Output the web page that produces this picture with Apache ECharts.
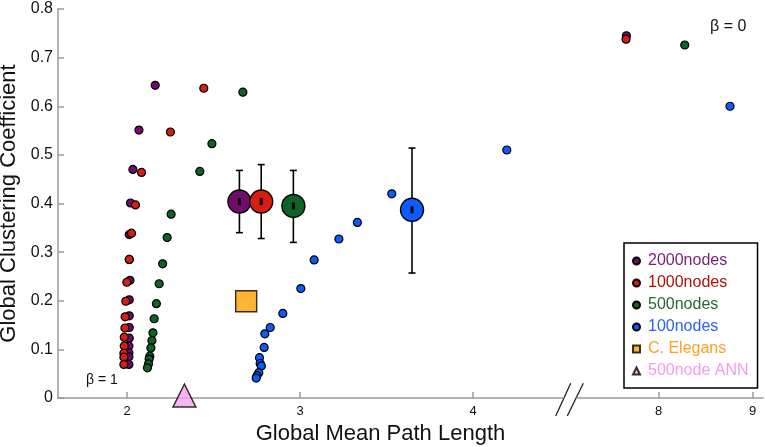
<!DOCTYPE html>
<html>
<head>
<meta charset="utf-8">
<script src="https://cdn.jsdelivr.net/npm/echarts@6/dist/echarts.min.js"></script>
<style>
  html, body { margin: 0; padding: 0; background: #fff; }
  #chart { width: 765px; height: 447px; }
</style>
</head>
<body>
<div id="chart"></div>
<script>
// small-world networks, beta from 1 (bottom left) to 0 (top right)
var n2000X = [2.162, 2.068, 2.033, 2.019, 2.012, 2.012, 2.016, 2.012, 2.012, 2.012, 2.012, 2.010, 2.010, 2.010, 2.010];
var n2000Y = [0.643, 0.551, 0.470, 0.401, 0.336, 0.285, 0.242, 0.202, 0.169, 0.145, 0.123, 0.107, 0.093, 0.085, 0.069];
var n1000X = [2.443, 2.250, 2.083, 2.048, 2.025, 2.012, 1.998, 1.992, 1.988, 1.987, 1.983, 1.983, 1.981, 1.981, 1.981];
var n1000Y = [0.637, 0.547, 0.464, 0.397, 0.339, 0.285, 0.238, 0.199, 0.167, 0.144, 0.125, 0.107, 0.092, 0.084, 0.069];
var n500X = [2.669, 2.490, 2.420, 2.254, 2.231, 2.205, 2.185, 2.169, 2.156, 2.149, 2.143, 2.137, 2.131, 2.127, 2.123, 2.117];
var n500Y = [0.629, 0.523, 0.466, 0.378, 0.330, 0.276, 0.235, 0.194, 0.163, 0.134, 0.118, 0.103, 0.086, 0.080, 0.070, 0.062];
var n100X = [4.195, 3.530, 3.331, 3.224, 3.081, 3.004, 2.900, 2.827, 2.796, 2.792, 2.765, 2.769, 2.776, 2.761, 2.750, 2.746];
var n100Y = [0.510, 0.420, 0.361, 0.327, 0.284, 0.225, 0.174, 0.145, 0.132, 0.104, 0.083, 0.071, 0.066, 0.052, 0.046, 0.041];

// beta = 0 points (right part of the broken axis)
var farNames = ['2000nodes', '1000nodes', '500nodes', '100nodes'];
var farX = [7.656, 7.652, 8.277, 8.759];
var farY = [0.745, 0.738, 0.726, 0.600];

// means with error bars
var meanX = [2.649, 2.775, 2.961, 3.647];
var meanY = [0.404, 0.404, 0.395, 0.387];
var errLow = [0.340, 0.328, 0.320, 0.257];
var errHigh = [0.468, 0.480, 0.468, 0.514];

var elegans = [2.688, 0.199];
var ann = [2.331, 0.005];

var names = ['2000nodes', '1000nodes', '500nodes', '100nodes', 'C. Elegans', '500node ANN'];
var xTicksLeft = [2, 3, 4];
var xTicksRight = [8, 9];

var colors = {
  '2000nodes': '#700c6c',
  '1000nodes': '#d81e12',
  '500nodes': '#0e6326',
  '100nodes': '#0d5bff',
  'C. Elegans': '#ffa200',
  '500node ANN': '#f7a3f0'
};
var textColors = ['#7a1e76', '#b0100c', '#1f6b30', '#2a62f5', '#ff9f1f', '#f49bee'];
var FONT = 'Liberation Sans, Arial, Helvetica, sans-serif';

function zip(xs, ys) {
  return xs.map(function (x, i) { return [x, ys[i]]; });
}

var dotStyle = function (name) {
  return { color: colors[name], borderColor: '#000', borderWidth: 1.2, opacity: 1 };
};

var series = [];
[[ '2000nodes', n2000X, n2000Y ], [ '1000nodes', n1000X, n1000Y ],
 [ '500nodes', n500X, n500Y ], [ '100nodes', n100X, n100Y ]].forEach(function (s) {
  series.push({
    name: s[0], type: 'scatter', symbol: 'circle', symbolSize: 8,
    data: zip(s[1], s[2]), itemStyle: dotStyle(s[0]), clip: false
  });
});
farNames.forEach(function (name, i) {
  series.push({
    name: name, type: 'scatter', symbol: 'circle', symbolSize: 8,
    xAxisIndex: 1, yAxisIndex: 1,
    data: [[farX[i], farY[i]]], itemStyle: dotStyle(name), clip: false
  });
});

var meanData = meanX.map(function (x, i) { return [x, meanY[i], errLow[i], errHigh[i], i]; });
series.push({
  type: 'custom',
  data: meanData,
  clip: false,
  renderItem: function (params, api) {
    var c = api.coord([api.value(0), api.value(1)]);
    var lo = api.coord([api.value(0), api.value(2)]);
    var hi = api.coord([api.value(0), api.value(3)]);
    var col = colors[farNames[api.value(4)]];
    var lineStyle = { stroke: '#000', lineWidth: 1.6 };
    return {
      type: 'group',
      children: [
        { type: 'line', shape: { x1: c[0], y1: lo[1], x2: c[0], y2: hi[1] }, style: lineStyle },
        { type: 'line', shape: { x1: c[0] - 3.5, y1: lo[1], x2: c[0] + 3.5, y2: lo[1] }, style: lineStyle },
        { type: 'line', shape: { x1: c[0] - 3.5, y1: hi[1], x2: c[0] + 3.5, y2: hi[1] }, style: lineStyle },
        { type: 'circle', shape: { cx: c[0], cy: c[1], r: 11.5 }, style: { fill: col, stroke: '#000', lineWidth: 1.4 } },
        { type: 'rect', shape: { x: c[0] - 1.5, y: c[1] - 3.5, width: 3, height: 7 }, style: { fill: '#000' } }
      ]
    };
  }
});

series.push({
  name: 'C. Elegans', type: 'scatter', symbol: 'rect', symbolSize: 21,
  data: [elegans], itemStyle: { color: colors['C. Elegans'], borderColor: '#000', borderWidth: 1.4 }, clip: false
});
series.push({
  name: '500node ANN', type: 'scatter', symbol: 'triangle', symbolSize: 23,
  data: [ann], itemStyle: { color: colors['500node ANN'], borderColor: '#000', borderWidth: 1.4 }, clip: false, z: 5
});

var axisLineStyle = { color: '#9a9a9a', width: 1.5 };

var chart = echarts.init(document.getElementById('chart'));
chart.setOption({
  animation: false,
  backgroundColor: '#fff',
  grid: [
    { left: 58, top: 9, width: 505, height: 389, outerBoundsMode: 'none', containLabel: false },
    { left: 577, top: 9, width: 186, height: 389, outerBoundsMode: 'none', containLabel: false }
  ],
  xAxis: [
    {
      type: 'value', gridIndex: 0, min: 1.6, max: 4.52,
      axisLine: { lineStyle: axisLineStyle },
      axisTick: { inside: true, length: 6, lineStyle: axisLineStyle, customValues: xTicksLeft },
      axisLabel: { customValues: xTicksLeft, fontSize: 13, color: '#111', fontFamily: FONT, margin: 7 },
      splitLine: { show: false },
      name: 'Global Mean Path Length', nameLocation: 'middle', nameGap: 24,
      nameTextStyle: { fontSize: 22, color: '#111', fontFamily: FONT, padding: [0, 0, 0, 140] }
    },
    {
      type: 'value', gridIndex: 1, min: 7.13, max: 9.11,
      axisLine: { lineStyle: axisLineStyle },
      axisTick: { inside: true, length: 6, lineStyle: axisLineStyle, customValues: xTicksRight },
      axisLabel: { customValues: xTicksRight, fontSize: 13, color: '#111', fontFamily: FONT, margin: 7 },
      splitLine: { show: false }
    }
  ],
  yAxis: [
    {
      type: 'value', gridIndex: 0, min: 0, max: 0.8, interval: 0.1,
      axisLine: { show: true, lineStyle: axisLineStyle },
      axisTick: { show: true, inside: true, length: 6, lineStyle: axisLineStyle },
      axisLabel: { fontSize: 16, color: '#111', fontFamily: FONT, margin: 5 },
      splitLine: { show: false },
      name: 'Global Clustering Coefficient', nameLocation: 'middle', nameGap: 31,
      nameTextStyle: { fontSize: 22, color: '#111', fontFamily: FONT }
    },
    { type: 'value', gridIndex: 1, min: 0, max: 0.8, show: false }
  ],
  legend: {
    orient: 'vertical', left: 624, top: 243,
    padding: [10, 9, 9, 8],
    itemWidth: 7, itemHeight: 7, itemGap: 6,
    borderColor: '#000', borderWidth: 1.5, backgroundColor: '#fff',
    textStyle: { fontSize: 16, fontFamily: FONT, lineHeight: 16, padding: [0, 0, 0, 3] },
    data: names.map(function (n, i) { return { name: n, textStyle: { color: textColors[i] } }; })
  },
  graphic: [
    { type: 'text', left: 86, top: 373, style: { text: 'β = 1', font: '14px ' + FONT, fill: '#111' } },
    { type: 'text', left: 710, top: 19, style: { text: 'β = 0', font: '16px ' + FONT, fill: '#111' } },
    { type: 'line', shape: { x1: 555.7, y1: 416, x2: 570.7, y2: 383.3 }, style: { stroke: '#222', lineWidth: 1.3 } },
    { type: 'line', shape: { x1: 567.3, y1: 416, x2: 583.3, y2: 383.3 }, style: { stroke: '#222', lineWidth: 1.3 } }
  ],
  series: series
});
</script>
</body>
</html>
